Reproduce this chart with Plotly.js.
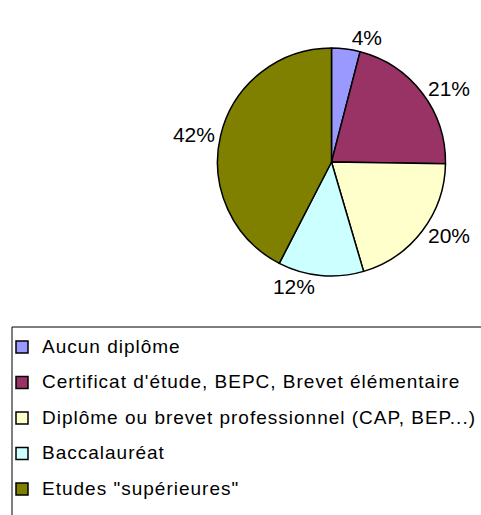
<!DOCTYPE html>
<html>
<head>
<meta charset="utf-8">
<script src="https://cdn.plot.ly/plotly-3.0.1.min.js"></script>
<style>
  body { margin: 0; background: #fff; }
  #chart { width: 481px; height: 515px; }
</style>
</head>
<body>
<div id="chart"></div>
<script>
// niveaux de diplôme, dans l'ordre du camembert
const categories = [
    'Aucun diplôme',
    "Certificat d'étude, BEPC, Brevet élémentaire",
    'Diplôme ou brevet professionnel (CAP, BEP...)',
    'Baccalauréat',
    'Etudes "supérieures"'
];
const percents = [4, 21, 20, 12, 42];
const sliceColors = ['#9999FF', '#993366', '#FFFFCC', '#CCFFFF', '#808000'];

// texte de légende plus petit que la police de la légende pour espacer les lignes
const legendLabels = categories.map(c =>
    '<span style="font-size:19px;letter-spacing:1px;baseline-shift:4px">' + c + '</span>');

const W = 481, H = 515;
// centre et rayon du camembert en pixels
const cx = 331.5, cy = 162, r = 114;
// cadre de la légende (haut-gauche), en pixels
const boxLeft = 12, boxTop = 327;

const trace = {
    type: 'pie',
    labels: legendLabels,
    values: percents,
    sort: false,
    direction: 'clockwise',
    rotation: 0,
    marker: { colors: sliceColors, line: { color: '#000', width: 1.5 } },
    textposition: 'outside',
    texttemplate: '%{value}%',
    textfont: { family: 'Liberation Sans, Arial, sans-serif', size: 21, color: '#000' },
    hoverinfo: 'label+percent',
    domain: {
        x: [(cx - r) / W, (cx + r) / W],
        y: [(H - cy - r) / H, (H - cy + r) / H]
    }
};

const layout = {
    width: W,
    height: H,
    margin: { l: 0, r: 0, t: 0, b: 0 },
    paper_bgcolor: '#fff',
    showlegend: true,
    legend: {
        x: 2 / W,
        y: (H - 324.25) / H,
        xanchor: 'left',
        yanchor: 'top',
        bgcolor: 'rgba(0,0,0,0)',
        borderwidth: 0,
        font: { family: 'Liberation Sans, Arial, sans-serif', size: 25, color: '#000' }
    },
    shapes: [{
        type: 'rect',
        xref: 'paper', yref: 'paper',
        x0: boxLeft / W, x1: 1.05,
        y0: -0.05, y1: (H - boxTop) / H,
        line: { color: '#000', width: 1 },
        fillcolor: 'rgba(0,0,0,0)'
    }],
    font: { family: 'Liberation Sans, Arial, sans-serif' }
};

Plotly.newPlot('chart', [trace], layout, { displayModeBar: false, staticPlot: true });
</script>
</body>
</html>
